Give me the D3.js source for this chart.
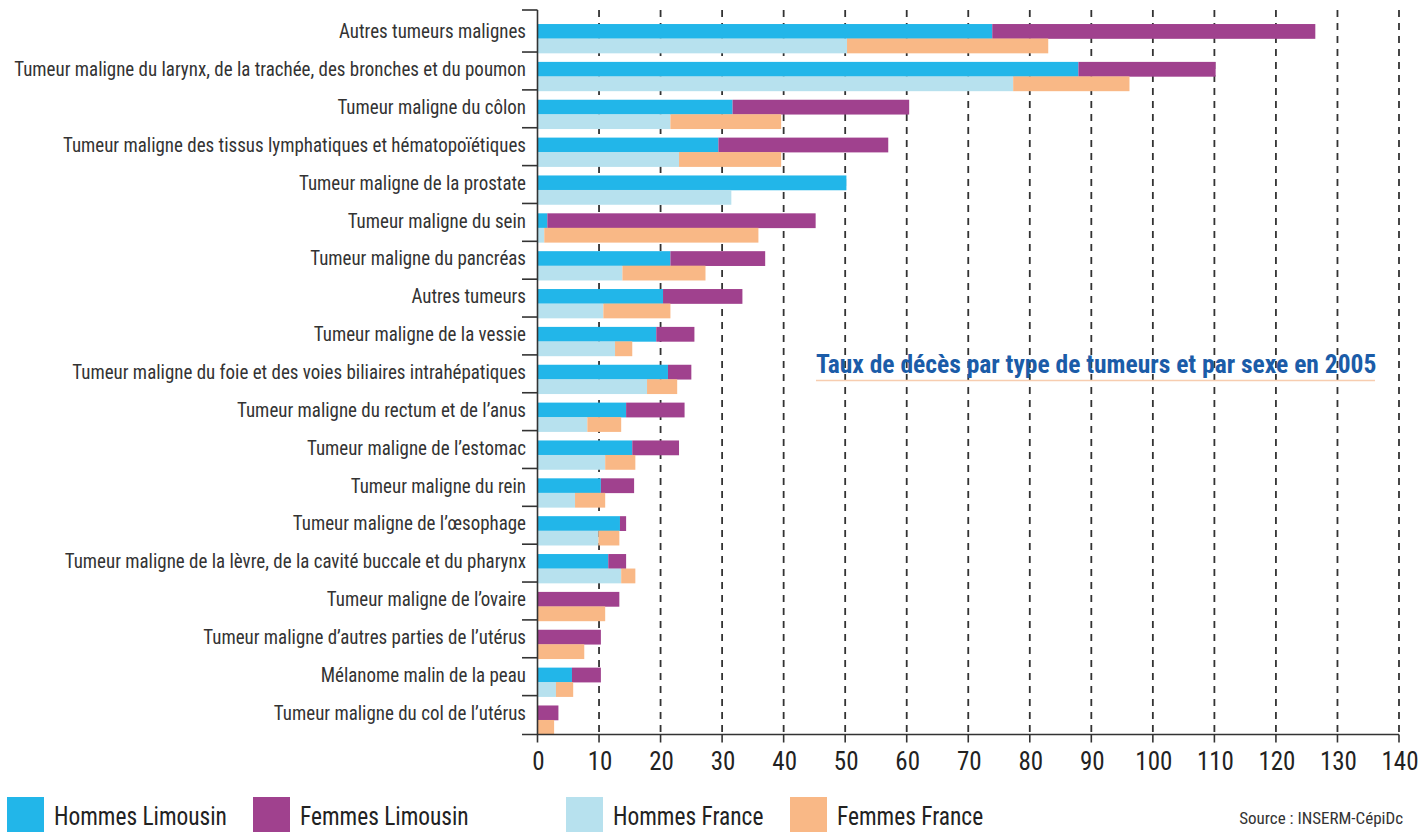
<!DOCTYPE html>
<html><head><meta charset="utf-8">
<script src="https://cdn.jsdelivr.net/npm/d3@7"></script>
<style>
html,body{margin:0;padding:0;background:#fff;}
svg text{font-family:"Liberation Sans Narrow","Roboto Condensed","DejaVu Sans Condensed","Arial Narrow",sans-serif;font-stretch:condensed;}
</style></head>
<body>
<svg id="chart" width="1419" height="832"></svg>
<script>
const categories = [
  "Autres tumeurs malignes",
  "Tumeur maligne du larynx, de la trachée, des bronches et du poumon",
  "Tumeur maligne du côlon",
  "Tumeur maligne des tissus lymphatiques et hématopoïétiques",
  "Tumeur maligne de la prostate",
  "Tumeur maligne du sein",
  "Tumeur maligne du pancréas",
  "Autres tumeurs",
  "Tumeur maligne de la vessie",
  "Tumeur maligne du foie et des voies biliaires intrahépatiques",
  "Tumeur maligne du rectum et de l’anus",
  "Tumeur maligne de l’estomac",
  "Tumeur maligne du rein",
  "Tumeur maligne de l’œsophage",
  "Tumeur maligne de la lèvre, de la cavité buccale et du pharynx",
  "Tumeur maligne de l’ovaire",
  "Tumeur maligne d’autres parties de l’utérus",
  "Mélanome malin de la peau",
  "Tumeur maligne du col de l’utérus"
];
const hommesLimousin = [73.9, 87.9, 31.7, 29.4, 50.2, 1.6, 21.6, 20.4, 19.3, 21.2, 14.4, 15.4, 10.3, 13.4, 11.5, 0, 0, 5.6, 0];
const femmesLimousin = [52.5, 22.3, 28.7, 27.6, 0, 43.6, 15.4, 12.9, 6.2, 3.8, 9.5, 7.6, 5.4, 1.0, 2.9, 13.3, 10.3, 4.7, 3.4];
const hommesFrance   = [50.3, 77.3, 21.6, 23.0, 31.5, 1.1, 13.8, 10.7, 12.6, 17.8, 8.1, 11.0, 6.1, 9.9, 13.6, 0, 0, 3.0, 0];
const femmesFrance   = [32.7, 18.9, 18.0, 16.6, 0, 34.8, 13.5, 10.9, 2.8, 4.9, 5.5, 4.9, 4.9, 3.4, 2.3, 11.0, 7.6, 2.8, 2.7];
const xTicks = [0, 10, 20, 30, 40, 50, 60, 70, 80, 90, 100, 110, 120, 130, 140];
const seriesNames = ["Hommes Limousin", "Femmes Limousin", "Hommes France", "Femmes France"];
const title = "Taux de décès par type de tumeurs et par sexe en 2005";
const source = "Source : INSERM-CépiDc";

const colors = {"Hommes Limousin":"#22b6e9","Femmes Limousin":"#a0418e","Hommes France":"#b7e1ee","Femmes France":"#f9b886"};

const svg = d3.select("#chart");
const x = d3.scaleLinear().domain([0,140]).range([537.5, 1399]);
const y = d3.scaleBand().domain(categories).range([19.6, 738.9]).paddingInner(0.234).paddingOuter(0.117);
const bh = y.bandwidth()/2;
const axisY = 734.5;
const topY = 10;

// grid
svg.append("g").selectAll("line").data(xTicks.filter(d=>d>0)).join("line")
  .attr("x1", d=>x(d)).attr("x2", d=>x(d)).attr("y1", topY).attr("y2", axisY)
  .attr("stroke", "#333").attr("stroke-width", 1.8).attr("stroke-dasharray", "7,6");

// bars
const rows = categories.map((c,i)=>({c, hl:hommesLimousin[i], fl:femmesLimousin[i], hf:hommesFrance[i], ff:femmesFrance[i]}));
const gb = svg.append("g");
rows.forEach(r=>{
  const segs = [
    {x0:0, x1:r.hl, yy:y(r.c), col:colors["Hommes Limousin"]},
    {x0:r.hl, x1:r.hl+r.fl, yy:y(r.c), col:colors["Femmes Limousin"]},
    {x0:0, x1:r.hf, yy:y(r.c)+bh, col:colors["Hommes France"]},
    {x0:r.hf, x1:r.hf+r.ff, yy:y(r.c)+bh, col:colors["Femmes France"]}
  ].filter(s=>s.x1>s.x0);
  gb.selectAll(null).data(segs).join("rect")
    .attr("x", s=>x(s.x0)).attr("width", s=>x(s.x1)-x(s.x0))
    .attr("y", s=>s.yy).attr("height", bh+0.3)
    .attr("fill", s=>s.col);
});

// axes
const ax = svg.append("g").attr("stroke","#333").attr("stroke-width",1.6).attr("fill","none");
ax.append("line").attr("x1", x(0)).attr("x2", x(0)).attr("y1", topY).attr("y2", axisY);
ax.append("line").attr("x1", 522).attr("x2", x(0)).attr("y1", topY).attr("y2", topY);
ax.selectAll(null).data(categories.slice(0,-1)).join("line")
  .attr("x1", 522).attr("x2", x(0))
  .attr("y1", d=>y(d)+y.bandwidth()-1).attr("y2", d=>y(d)+y.bandwidth()-1);
ax.append("line").attr("x1", 522).attr("x2", x(140)).attr("y1", axisY).attr("y2", axisY);
ax.selectAll(null).data(xTicks).join("line")
  .attr("x1", d=>x(d)).attr("x2", d=>x(d)).attr("y1", axisY).attr("y2", axisY+8);

// tick labels
svg.append("g").selectAll("text").data(xTicks).join("text")
  .attr("x", d=>x(d)+1).attr("y", 770).attr("text-anchor","middle")
  .attr("font-size", 25).attr("fill","#222").text(d=>d);

// category labels (horizontally condensed)
svg.append("g").attr("transform","translate(526,0) scale(0.925,1)")
  .selectAll("text").data(categories).join("text")
  .attr("x", 0).attr("y", d=>y(d)+bh/2+7)
  .attr("text-anchor","end").attr("font-size", 20.5).attr("fill","#333").text(d=>d);

// title
svg.append("text").attr("x", 816).attr("y", 373).attr("font-size", 25.5).attr("font-weight","bold")
  .attr("fill","#1b5ca8").text(title);
svg.append("line").attr("x1", 816).attr("x2", 1375).attr("y1", 380.5).attr("y2", 380.5)
  .attr("stroke","#f7cdb0").attr("stroke-width",1.6);

// legend
const legX = [7, 253, 566, 790];
const lg = svg.append("g");
lg.selectAll("rect").data(seriesNames).join("rect")
  .attr("x", (d,i)=>legX[i]).attr("y", 797).attr("width", 37).attr("height", 35)
  .attr("fill", d=>colors[d]);
lg.selectAll("text").data(seriesNames).join("text")
  .attr("transform", (d,i)=>`translate(${legX[i]+47},825) scale(0.9,1)`)
  .attr("font-size", 26).attr("fill","#222").text(d=>d);

svg.append("text").attr("x", 1403).attr("y", 824).attr("text-anchor","end")
  .attr("font-size", 17).attr("fill","#333").text(source);
</script>
</body></html>
